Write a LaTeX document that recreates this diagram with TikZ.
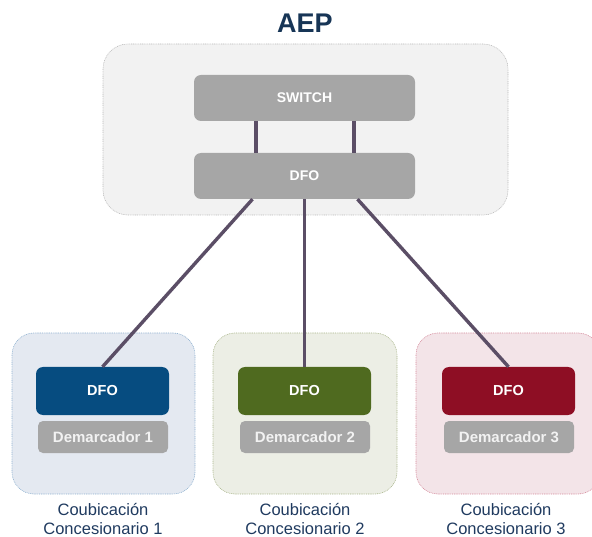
\documentclass[tikz,border=0pt]{standalone}
\usepackage{fontspec}
\setmainfont{Liberation Sans}
\definecolor{navy}{HTML}{173556}
\definecolor{capnavy}{HTML}{1F3A5F}
\definecolor{cfill}{HTML}{F2F2F2}
\definecolor{cborder}{HTML}{B8B8B8}
\definecolor{boxgrey}{HTML}{A6A6A6}
\definecolor{linkc}{HTML}{5B4E66}
\definecolor{dfoblue}{HTML}{064C80}
\definecolor{dfogreen}{HTML}{4F6A1F}
\definecolor{dfored}{HTML}{8E0E24}
\definecolor{bluefill}{HTML}{E4E9F1}
\definecolor{blueborder}{HTML}{8DB0CF}
\definecolor{greenfill}{HTML}{ECEEE5}
\definecolor{greenborder}{HTML}{A8B48A}
\definecolor{redfill}{HTML}{F3E4E8}
\definecolor{redborder}{HTML}{D4889A}
\definecolor{demtext}{HTML}{F2F2F2}
\tikzset{
  container/.style={draw, line width=0.6pt, dash pattern=on 0.9pt off 0.9pt, rounded corners=22pt},
  greybox/.style={fill=boxgrey, rounded corners=7pt, minimum width=221pt, minimum height=46pt, text=white, font=\bfseries\fontsize{14}{16}\selectfont, inner sep=0pt},
  dfobox/.style={rounded corners=7pt, minimum width=133pt, minimum height=48pt, text=white, font=\bfseries\fontsize{14.5}{16}\selectfont, inner sep=0pt},
  dembox/.style={fill=boxgrey, rounded corners=5pt, minimum width=130pt, minimum height=32pt, text=demtext, font=\bfseries\fontsize{15}{18}\selectfont, inner sep=0pt},
  link/.style={draw=linkc, line width=3.4pt},
  caption/.style={text=capnavy, font=\fontsize{16.5}{19}\selectfont, align=center, inner sep=0pt}
}
\begin{document}
\begin{tikzpicture}[x=1pt,y=-1pt]
\useasboundingbox (0,0) rectangle (592,537);
% containers
\draw[container, fill=cfill, draw=cborder, rounded corners=25pt] (103,44) rectangle (508,215);
\draw[container, fill=bluefill, draw=blueborder] (12,333) rectangle (195,494);
\draw[container, fill=greenfill, draw=greenborder] (213,333) rectangle (397,494);
\draw[container, fill=redfill, draw=redborder] (416,333) rectangle (600,494);
% title
\node[text=navy, font=\bfseries\fontsize{27}{30}\selectfont, inner sep=0pt] (aep) at (305,23) {AEP};
% top boxes
\node[greybox] (sw) at (304.5,98) {SWITCH};
\node[greybox] (dfo) at (304.5,176) {DFO};
% bottom boxes
\node[dfobox, fill=dfoblue] (dfo1) at (102.5,391) {DFO};
\node[dfobox, fill=dfogreen] (dfo2) at (304.5,391) {DFO};
\node[dfobox, fill=dfored] (dfo3) at (508.5,391) {DFO};
\node[dembox] (dem1) at (103,437) {Demarcador 1};
\node[dembox] (dem2) at (305,437) {Demarcador 2};
\node[dembox] (dem3) at (509,437) {Demarcador 3};
% captions
\node[caption] (cap1) at (103,519) {Coubicación\\Concesionario 1};
\node[caption] (cap2) at (305,519) {Coubicación\\Concesionario 2};
\node[caption] (cap3) at (506,519) {Coubicación\\Concesionario 3};
% links
\draw[link] ([xshift=-48.5pt]sw.south) -- ([xshift=-48.5pt]dfo.north);
\draw[link] ([xshift=49.5pt]sw.south) -- ([xshift=49.5pt]dfo.north);
\draw[link] ([xshift=-52pt]dfo.south) -- (dfo1.north);
\draw[link] (dfo.south) -- (dfo2.north);
\draw[link] ([xshift=53pt]dfo.south) -- (dfo3.north);
\end{tikzpicture}
\end{document}
